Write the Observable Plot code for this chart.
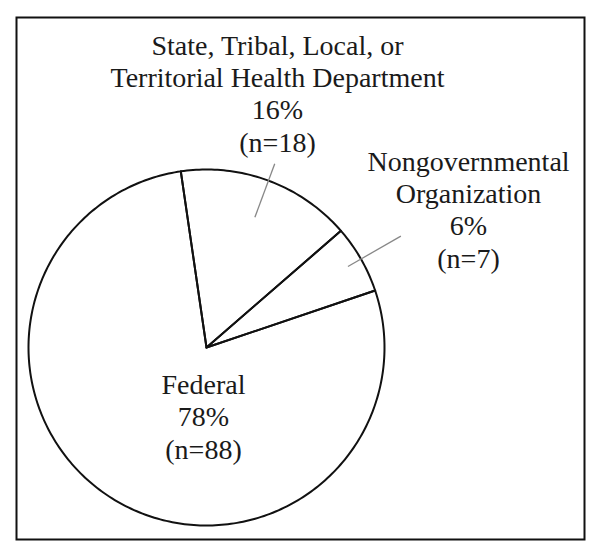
<!DOCTYPE html>
<html><head><meta charset="utf-8">
<script src="https://cdn.jsdelivr.net/npm/d3@7"></script>
<script src="https://cdn.jsdelivr.net/npm/@observablehq/plot@0.6"></script>
<style>html,body{margin:0;padding:0;background:#fff;} #chart svg{display:block;}</style>
</head><body><div id="chart"></div>
<script>
// Data
const categories = ["State, Tribal, Local, or\nTerritorial Health Department", "Nongovernmental\nOrganization", "Federal"];
const counts = [18, 7, 88];
const percents = [16, 6, 78];

// Layout (not data)
const startDeg = -8.3;
const R = 178;
const labelPos = [
  {x: 71, y: 196, leader: [139, 196]},
  {x: 262, y: 80, leader: [163, 224]},
  {x: -3, y: -111, leader: null}
];

const pie = d3.pie().sort(null)
  .startAngle(startDeg * Math.PI / 180)
  .endAngle(startDeg * Math.PI / 180 + 2 * Math.PI);
const arcs = pie(counts);

const slicePts = [];
arcs.forEach((a, i) => {
  slicePts.push({slice: i, x: 0, y: 0});
  const n = Math.max(4, Math.ceil((a.endAngle - a.startAngle) * 180 / Math.PI));
  for (let k = 0; k <= n; k++) {
    const t = a.startAngle + (a.endAngle - a.startAngle) * k / n;
    slicePts.push({slice: i, x: R * Math.sin(t), y: R * Math.cos(t)});
  }
  slicePts.push({slice: i, x: 0, y: 0});
});

const leaders = [];
arcs.forEach((a, i) => {
  const L = labelPos[i].leader;
  if (!L) return;
  const m = (a.startAngle + a.endAngle) / 2;
  leaders.push({x1: L[0] * Math.sin(m), y1: L[0] * Math.cos(m), x2: L[1] * Math.sin(m), y2: L[1] * Math.cos(m)});
});

const labels = categories.map((c, i) => ({
  x: labelPos[i].x, y: labelPos[i].y,
  text: `${c}\n${percents[i]}%\n(n=${counts[i]})`
}));

const chart = Plot.plot({
  width: 602, height: 556,
  marginTop: 17, marginLeft: 16, marginRight: 18, marginBottom: 17,
  x: {domain: [-190, 378], axis: null},
  y: {domain: [-192, 330], axis: null},
  style: {background: "#fff"},
  marks: [
    Plot.frame({stroke: "#111", strokeWidth: 2}),
    Plot.line(slicePts, {x: "x", y: "y", z: "slice", stroke: "#111", strokeWidth: 2, strokeLinejoin: "round"}),
    Plot.link(leaders, {x1: "x1", y1: "y1", x2: "x2", y2: "y2", stroke: "#888", strokeWidth: 1.3}),
    Plot.text(labels, {x: "x", y: "y", text: "text", fontFamily: "Liberation Serif, 'Times New Roman', serif",
      fontSize: 28, lineHeight: 1.15, lineAnchor: "bottom", fill: "#1a1a1a"})
  ]
});
document.getElementById("chart").appendChild(chart);
</script>
</body></html>
